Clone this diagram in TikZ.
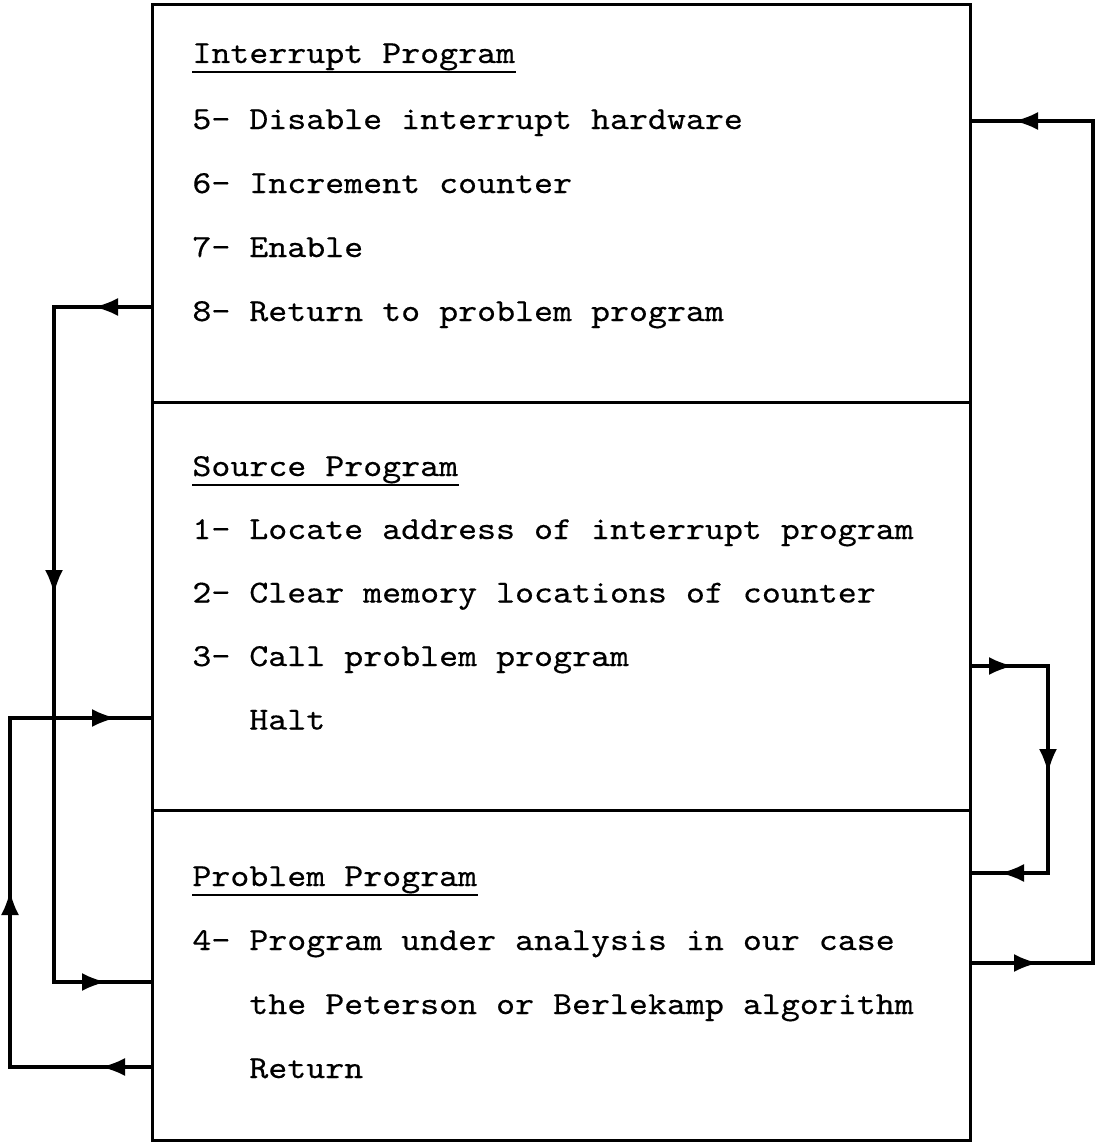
\documentclass[tikz,border=0pt]{standalone}
\usepackage{fontspec}
\setmainfont{lmmono10-regular.otf}[FakeStretch=1.13, FakeBold=0.4]
\usetikzlibrary{arrows.meta,positioning,decorations.markings}
\tikzset{
  section/.style={draw, line width=1.5pt, minimum width=409pt, outer sep=0pt, inner sep=0pt},
  txt/.style={anchor=base west, inner sep=0pt, font=\fontsize{16pt}{19pt}\selectfont},
  uline/.style={line width=1.4pt},
  wire/.style={line width=1.6pt, line join=miter},
  tip/.style={postaction={decorate, decoration={markings,
    mark=at position #1 with {\arrow{Latex[length=12pt,width=9pt]}}}}}
}

\begin{document}
\begin{tikzpicture}[x=0.5pt, y=-0.5pt]
\useasboundingbox (0,0) rectangle (1096,1145);

% the three parts of the program, stacked
\node[section, minimum height=198.5pt, anchor=north west] (secI) at (152,5) {};
\node[section, minimum height=204pt, below=0pt of secI] (secS) {};
\node[section, minimum height=165pt, below=0pt of secS] (secP) {};

% Interrupt Program
\node[txt] (hI) at (192,63) {Interrupt Program};
\draw[uline] ([yshift=-4.5pt]hI.base west) -- ([yshift=-4.5pt]hI.base east);
\foreach \t [count=\n from 5] in {5- Disable interrupt hardware, 6- Increment counter,
    7- Enable, 8- Return to problem program}
  \node[txt] (i\n) at (192,129+64*\n-320) {\t};

% Source Program
\node[txt] (hS) at (192,476) {Source Program};
\draw[uline] ([yshift=-4.5pt]hS.base west) -- ([yshift=-4.5pt]hS.base east);
\foreach \t [count=\n from 1] in {1- Locate address of interrupt program,
    2- Clear memory locations of counter, 3- Call problem program, {\phantom{3- }Halt}}
  \node[txt] (s\n) at (192,539+63.5*\n-63.5) {\t};

% Problem Program
\node[txt] (hP) at (192,886) {Problem Program};
\draw[uline] ([yshift=-4.5pt]hP.base west) -- ([yshift=-4.5pt]hP.base east);
\foreach \t [count=\n from 1] in {4- Program under analysis in our case,
    {\phantom{4- }the Peterson or Berlekamp algorithm}, {\phantom{4- }Return}}
  \node[txt] (p\n) at (192,950+64*\n-64) {\t};

% connectors
\coordinate (oTop) at (1093,121);
\coordinate (oBot) at (1093,963);
\coordinate (iTop) at (1048,666);
\coordinate (iBot) at (1048,873);
\coordinate (lTop) at (54,307);
\coordinate (lBot) at (54,982);
\coordinate (mBot) at (10,1067);
\coordinate (mTop) at (10,718);

\draw[wire, tip=34pt, tip=522pt]
  (secP.east |- oBot) -- (oBot) -- (oTop) -- (secI.east |- oTop);
\draw[wire, tip=21.5pt, tip=92.5pt, tip=166.5pt]
  (secS.east |- iTop) -- (iTop) -- (iBot) -- (secP.east |- iBot);
\draw[wire, tip=29pt, tip=192.5pt, tip=412.5pt]
  (secI.west |- lTop) -- (lTop) -- (lBot) -- (secP.west |- lBot);
\draw[wire, tip=25.5pt, tip=159pt, tip=298.5pt]
  (secP.west |- mBot) -- (mBot) -- (mTop) -- (secS.west |- mTop);
\end{tikzpicture}
\end{document}
